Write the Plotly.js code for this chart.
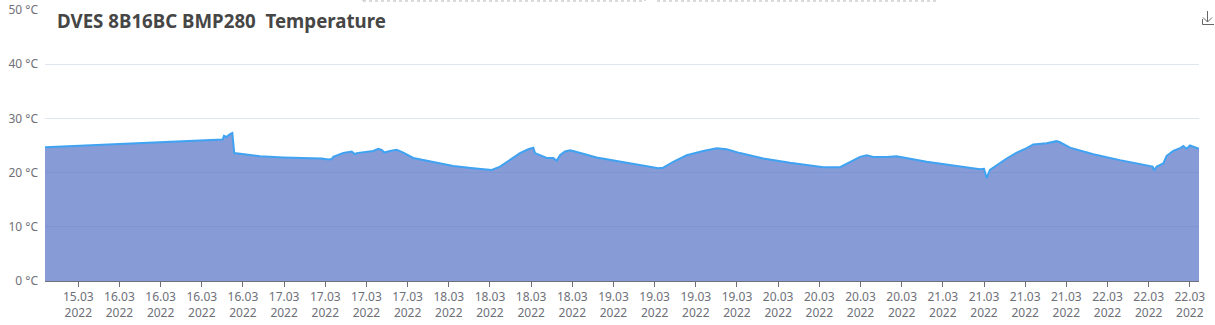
<!DOCTYPE html>
<html>
<head>
<meta charset="utf-8">
<script src="https://cdn.plot.ly/plotly-3.0.1.min.js"></script>
<style>
html,body{margin:0;padding:0;background:#fff;}
#chart{width:1215px;height:325px;}
</style>
</head>
<body>
<div id="chart"></div>
<script>
// ---- data ----
const times = [
"2022-03-15 13:09","2022-03-16 15:03","2022-03-16 15:14","2022-03-16 15:38","2022-03-16 16:07",
"2022-03-16 16:27","2022-03-16 16:44","2022-03-16 18:03","2022-03-16 20:29","2022-03-16 23:53",
"2022-03-17 02:19","2022-03-17 05:28","2022-03-17 06:26","2022-03-17 06:56","2022-03-17 07:10",
"2022-03-17 08:37","2022-03-17 09:51","2022-03-17 10:20","2022-03-17 10:34","2022-03-17 12:02",
"2022-03-17 12:59","2022-03-17 13:43","2022-03-17 14:13","2022-03-17 14:36","2022-03-17 15:26",
"2022-03-17 16:24","2022-03-17 17:22","2022-03-17 18:49","2022-03-17 21:44","2022-03-18 00:39",
"2022-03-18 03:34","2022-03-18 05:31","2022-03-18 06:15","2022-03-18 07:28","2022-03-18 08:55",
"2022-03-18 10:22","2022-03-18 11:35","2022-03-18 12:19","2022-03-18 12:34","2022-03-18 13:17",
"2022-03-18 14:16","2022-03-18 15:14","2022-03-18 15:43","2022-03-18 16:12","2022-03-18 16:56",
"2022-03-18 17:40","2022-03-18 18:23","2022-03-18 21:33","2022-03-19 01:26","2022-03-19 04:21",
"2022-03-19 06:32","2022-03-19 07:15","2022-03-19 08:43","2022-03-19 10:40","2022-03-19 13:05",
"2022-03-19 15:02","2022-03-19 15:46","2022-03-19 16:30","2022-03-19 18:26","2022-03-19 21:50",
"2022-03-20 01:43","2022-03-20 04:38","2022-03-20 06:35","2022-03-20 09:01","2022-03-20 10:28",
"2022-03-20 11:56","2022-03-20 12:54","2022-03-20 13:52","2022-03-20 15:49","2022-03-20 17:16",
"2022-03-20 18:14","2022-03-20 21:39","2022-03-21 01:31","2022-03-21 05:25","2022-03-21 06:00",
"2022-03-21 06:23","2022-03-21 06:52","2022-03-21 07:51","2022-03-21 09:18","2022-03-21 10:46",
"2022-03-21 12:13","2022-03-21 13:11","2022-03-21 15:08","2022-03-21 16:35","2022-03-21 17:04",
"2022-03-21 18:32","2022-03-21 21:56","2022-03-22 01:49","2022-03-22 05:43","2022-03-22 06:35",
"2022-03-22 06:46","2022-03-22 07:10","2022-03-22 08:08","2022-03-22 08:37","2022-03-22 09:35",
"2022-03-22 10:34","2022-03-22 11:02","2022-03-22 11:32","2022-03-22 12:01","2022-03-22 12:30",
"2022-03-22 13:20"
];
const temperature = [
24.7,26.1,26.8,26.6,27.1,
27.3,23.6,23.4,23.0,22.8,
22.7,22.6,22.4,22.5,22.9,
23.6,23.9,23.4,23.6,23.9,
24.0,24.4,24.2,23.7,24.0,
24.2,23.7,22.7,21.9,21.2,
20.8,20.6,20.5,21.1,22.3,
23.6,24.3,24.6,23.6,23.2,
22.7,22.7,22.2,23.2,23.9,
24.1,23.9,22.8,21.9,21.3,
20.8,20.9,22.0,23.2,24.0,
24.5,24.4,24.3,23.6,22.6,
21.8,21.3,21.0,21.0,22.0,
22.9,23.2,22.9,22.9,23.0,
22.8,22.0,21.3,20.6,20.7,
19.0,20.5,21.4,22.6,23.7,
24.5,25.2,25.4,25.8,25.6,
24.6,23.4,22.3,21.3,21.1,
20.4,21.1,21.7,23.1,24.0,
24.5,24.9,24.4,25.0,24.8,
24.4
];
const xTickVals = [
"2022-03-15 18:00","2022-03-16 00:00","2022-03-16 06:00","2022-03-16 12:00","2022-03-16 18:00",
"2022-03-17 00:00","2022-03-17 06:00","2022-03-17 12:00","2022-03-17 18:00",
"2022-03-18 00:00","2022-03-18 06:00","2022-03-18 12:00","2022-03-18 18:00",
"2022-03-19 00:00","2022-03-19 06:00","2022-03-19 12:00","2022-03-19 18:00",
"2022-03-20 00:00","2022-03-20 06:00","2022-03-20 12:00","2022-03-20 18:00",
"2022-03-21 00:00","2022-03-21 06:00","2022-03-21 12:00","2022-03-21 18:00",
"2022-03-22 00:00","2022-03-22 06:00","2022-03-22 12:00"
];
const xTickText = [
"15.03","16.03","16.03","16.03","16.03",
"17.03","17.03","17.03","17.03",
"18.03","18.03","18.03","18.03",
"19.03","19.03","19.03","19.03",
"20.03","20.03","20.03","20.03",
"21.03","21.03","21.03","21.03",
"22.03","22.03","22.03"
].map(d => d + "<br>2022");
const yTickVals = [0,10,20,30,40,50];
const yTickText = ["0 °C","10 °C","20 °C","30 °C","40 °C","50 °C"];
const titleText = "DVES 8B16BC BMP280\u00a0\u00a0Temperature";

// ---- layout helpers (pixel -> paper) ----
const L = 45, R = 1199, T = 10, B = 281;
const px = x => (x - L) / (R - L);
const py = y => (B - y) / (B - T);

const grey = "#6E7079";
const shapes = [
  // cut-off dotted boxes at top
  {type:"rect", xref:"paper", yref:"paper", x0:px(363), x1:px(645), y0:py(1), y1:py(-30),
   line:{color:"#b5b5b5", width:1, dash:"dot"}},
  {type:"rect", xref:"paper", yref:"paper", x0:px(657), x1:px(938), y0:py(1), y1:py(-30),
   line:{color:"#b5b5b5", width:1, dash:"dot"}},
  // download icon
  {type:"path", xref:"paper", yref:"paper",
   path:`M${px(1207.5)},${py(11)} L${px(1207.5)},${py(22)} M${px(1203)},${py(17.5)} L${px(1207.5)},${py(22)} L${px(1212)},${py(17.5)}`,
   line:{color:"#666", width:1}},
  {type:"path", xref:"paper", yref:"paper",
   path:`M${px(1202.5)},${py(19)} L${px(1202.5)},${py(24.5)} L${px(1214)},${py(24.5)}`,
   line:{color:"#666", width:1}}
];

const trace = {
  x: times, y: temperature, type: "scatter", mode: "lines",
  line: {color: "#3fa3f2", width: 2, shape: "linear"},
  fill: "tozeroy", fillcolor: "rgba(84,112,198,0.7)",
  hoverinfo: "x+y"
};

const layout = {
  width: 1215, height: 325,
  margin: {l: L, r: 1215 - R, t: T, b: 325 - B, pad: 0},
  paper_bgcolor: "#fff", plot_bgcolor: "#fff",
  showlegend: false,
  font: {family: "'Noto Sans', 'Open Sans', sans-serif", size: 12, color: grey},
  title: {
    text: "<b>" + titleText + "</b>",
    xref: "container", yref: "container",
    x: 57 / 1215, xanchor: "left",
    y: 1 - 21 / 325, yanchor: "middle",
    font: {family: "'Noto Sans', 'Open Sans', sans-serif", size: 18.7, color: "#464646"}
  },
  xaxis: {
    type: "date",
    range: [times[0], times[times.length - 1]],
    tickmode: "array", tickvals: xTickVals, ticktext: xTickText,
    showgrid: false, zeroline: false,
    showline: true, linecolor: grey, linewidth: 1,
    ticks: "outside", ticklen: 5, tickcolor: grey, tickwidth: 1,
    tickfont: {size: 12, color: grey},
    fixedrange: true
  },
  yaxis: {
    range: [0, 50],
    tickmode: "array", tickvals: yTickVals, ticktext: yTickText,
    showgrid: true, gridcolor: "#E0E6F1", gridwidth: 1,
    zeroline: false, showline: false, ticks: "",
    ticklabelstandoff: 6,
    tickfont: {size: 12, color: grey},
    fixedrange: true
  },
  shapes: shapes
};

Plotly.newPlot("chart", [trace], layout, {displayModeBar: false, staticPlot: false, responsive: false});
</script>
</body>
</html>
